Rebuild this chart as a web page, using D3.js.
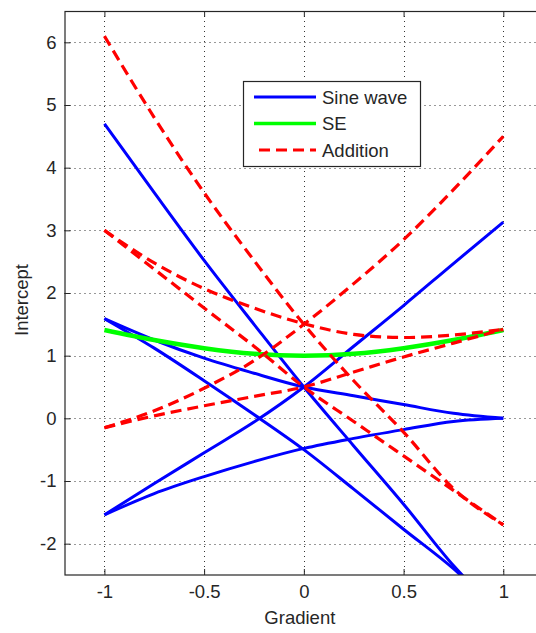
<!DOCTYPE html>
<html>
<head>
<meta charset="utf-8">
<script src="https://cdn.jsdelivr.net/npm/d3@7"></script>
<style>
  html, body { margin: 0; padding: 0; background: #fff; }
  svg { display: block; }
  text { font-family: "Liberation Sans", Arial, sans-serif; fill: #262626; }
</style>
</head>
<body>
<svg id="chart" width="536" height="633"></svg>
<script>
// Gradient values at which each intercept curve is sampled
const gradients = [-1, -0.75, -0.5, -0.25, 0, 0.25, 0.5, 0.75, 1];

// Sine wave: five intercept curves
const sineWave = [
  [4.7, 3.6, 2.52, 1.5, 0.5, -0.44, -1.37, -2.35, -3.15],
  [1.59, 1.25, 0.96, 0.72, 0.5, 0.36, 0.22, 0.08, 0.0],
  [-1.54, -1.04, -0.55, -0.06, 0.5, 1.15, 1.8, 2.47, 3.13],
  [-1.54, -1.2, -0.93, -0.69, -0.48, -0.32, -0.18, -0.05, 0.0],
  [1.59, 1.12, 0.6, 0.06, -0.5, -1.13, -1.77, -2.4, -3.15]
];

// SE curve
const se = [1.41, 1.25, 1.12, 1.03, 1.0, 1.03, 1.12, 1.25, 1.41];

// Addition: five intercept curves
const addition = [
  [6.1, 4.8, 3.6, 2.52, 1.5, 0.6, -0.22, -1.12, -1.7],
  [3.0, 2.38, 1.76, 1.15, 0.5, -0.05, -0.6, -1.15, -1.7],
  [3.0, 2.48, 2.07, 1.76, 1.51, 1.34, 1.29, 1.33, 1.42],
  [-0.15, 0.12, 0.48, 0.92, 1.5, 2.15, 2.85, 3.65, 4.5],
  [-0.15, 0.04, 0.2, 0.35, 0.5, 0.74, 0.98, 1.2, 1.42]
];

const xTicks = [-1, -0.5, 0, 0.5, 1];
const yTicks = [-2, -1, 0, 1, 2, 3, 4, 5, 6];
const legendLabels = ["Sine wave", "SE", "Addition"];

const svg = d3.select("#chart");
const plotLeft = 64.5, plotRight = 543.2, plotTop = 11, plotBottom = 575;

const x = d3.scaleLinear().domain([-1.2, 1.2]).range([plotLeft, plotRight]);
const y = d3.scaleLinear().domain([-2.5, 6.5]).range([plotBottom, plotTop]);

const axisColor = "#262626";
const plainNumber = d => String(d);

// dotted grid
const grid = svg.append("g").attr("stroke", "#333").attr("stroke-width", 1)
  .attr("stroke-dasharray", "1,4");
grid.selectAll("line.gx").data(xTicks).join("line").attr("class", "gx")
  .attr("x1", d => Math.round(x(d)) + 0.5).attr("x2", d => Math.round(x(d)) + 0.5)
  .attr("y1", plotTop).attr("y2", plotBottom);
grid.selectAll("line.gy").data(yTicks).join("line").attr("class", "gy")
  .attr("y1", d => Math.round(y(d)) + 0.5).attr("y2", d => Math.round(y(d)) + 0.5)
  .attr("x1", plotLeft).attr("x2", plotRight);

// curves
svg.append("clipPath").attr("id", "plot-clip")
  .append("rect").attr("x", plotLeft).attr("y", plotTop)
  .attr("width", plotRight - plotLeft).attr("height", plotBottom - plotTop);

const line = d3.line()
  .x((d, i) => x(gradients[i]))
  .y(d => y(d))
  .curve(d3.curveMonotoneX);

const plot = svg.append("g").attr("clip-path", "url(#plot-clip)")
  .attr("fill", "none").attr("stroke-linejoin", "round");

plot.selectAll("path.sine").data(sineWave).join("path")
  .attr("class", "sine").attr("d", line)
  .attr("stroke", "#0000ff").attr("stroke-width", 3);

plot.append("path").datum(se).attr("d", line)
  .attr("stroke", "#00ff00").attr("stroke-width", 4.5);

plot.selectAll("path.add").data(addition).join("path")
  .attr("class", "add").attr("d", line)
  .attr("stroke", "#ff0000").attr("stroke-width", 3.2)
  .attr("stroke-dasharray", "11,6");

// axes with inward ticks
const xAxis = svg.append("g").attr("transform", `translate(0,${plotBottom})`)
  .call(d3.axisBottom(x).tickValues(xTicks).tickFormat(plainNumber).tickSizeInner(-6).tickSizeOuter(0).tickPadding(10));
const xAxisTop = svg.append("g").attr("transform", `translate(0,${plotTop})`)
  .call(d3.axisTop(x).tickValues(xTicks).tickFormat("").tickSizeInner(-6).tickSizeOuter(0));
const yAxis = svg.append("g").attr("transform", `translate(${plotLeft},0)`)
  .call(d3.axisLeft(y).tickValues(yTicks).tickFormat(plainNumber).tickSizeInner(-6).tickSizeOuter(0).tickPadding(8));
const yAxisRight = svg.append("g").attr("transform", `translate(${plotRight},0)`)
  .call(d3.axisRight(y).tickValues(yTicks).tickFormat("").tickSizeInner(-6).tickSizeOuter(0));

[xAxis, xAxisTop, yAxis, yAxisRight].forEach(g => {
  g.select(".domain").remove();
  g.selectAll(".tick line").attr("stroke", axisColor);
  g.selectAll(".tick text").attr("fill", axisColor)
    .style("font-size", "18.5px").style("font-family", "'Liberation Sans', Arial, sans-serif");
});

// axes box
svg.append("rect").attr("x", plotLeft + 0.5).attr("y", plotTop + 0.5)
  .attr("width", plotRight - plotLeft).attr("height", plotBottom - plotTop - 0.5)
  .attr("fill", "none").attr("stroke", axisColor).attr("stroke-width", 1.2);

// axis labels
svg.append("text").attr("x", (plotLeft + plotRight) / 2 - 4).attr("y", 624)
  .attr("text-anchor", "middle").style("font-size", "18.5px").text("Gradient");
svg.append("text").attr("transform", "translate(28,300) rotate(-90)")
  .attr("text-anchor", "middle").style("font-size", "18.5px").text("Intercept");

// legend
const legend = svg.append("g");
legend.append("rect").attr("x", 243.5).attr("y", 81.5).attr("width", 177).attr("height", 85)
  .attr("fill", "#fff").attr("stroke", axisColor).attr("stroke-width", 1.2);
const legendStyles = [
  { color: "#0000ff", width: 3, dash: null },
  { color: "#00ff00", width: 3.4, dash: null },
  { color: "#ff0000", width: 3.2, dash: "11,6" }
];
const rowY = [97, 123.5, 150];
legendLabels.forEach((label, i) => {
  const s = legendStyles[i];
  legend.append("line")
    .attr("x1", s.dash ? 259 : 254).attr("x2", 316)
    .attr("y1", rowY[i]).attr("y2", rowY[i])
    .attr("stroke", s.color).attr("stroke-width", s.width)
    .attr("stroke-dasharray", s.dash);
  legend.append("text").attr("x", 322).attr("y", rowY[i] + 6.6)
    .style("font-size", "18.5px").text(label);
});
</script>
</body>
</html>
